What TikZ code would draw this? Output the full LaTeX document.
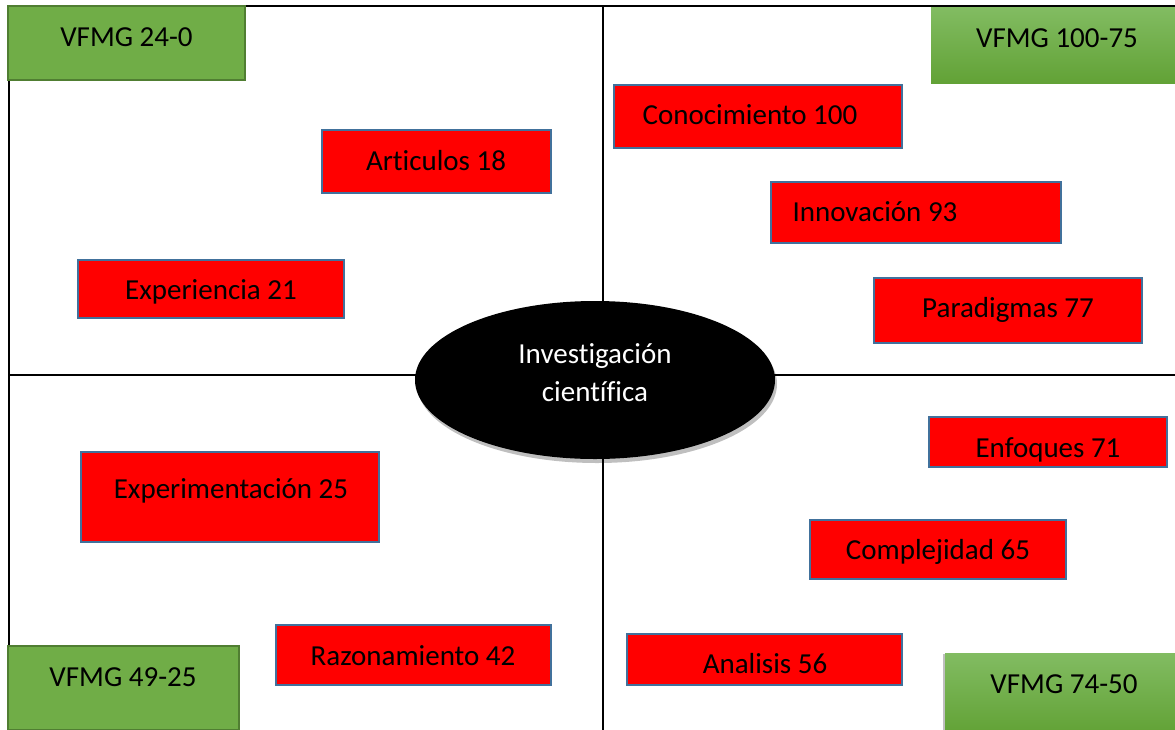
\documentclass[tikz,border=0pt]{standalone}
\usepackage{fontspec}
\setmainfont[Ligatures=NoCommon]{Carlito}
\usetikzlibrary{shadows,shapes.geometric}
\definecolor{boxred}{HTML}{FF0000}
\definecolor{boxblue}{HTML}{41719C}
\definecolor{gfill}{HTML}{70AD47}
\definecolor{gline}{HTML}{507E32}
\definecolor{gtop}{HTML}{82BC62}
\definecolor{gbot}{HTML}{62A236}
\tikzset{
  redbox/.style={draw=boxblue, line width=2pt, fill=boxred, inner sep=0pt},
  flatgreen/.style={draw=gline, line width=2pt, fill=gfill, inner sep=0pt},
  gradgreen/.style={top color=gtop, bottom color=gbot, draw=none, inner sep=0pt},
  lbl/.style={anchor=base, inner sep=0pt, yshift=-1.5pt, font=\fontsize{29}{35}\selectfont, text=black},
  wlbl/.style={lbl, text=white},
  frameline/.style={line width=2pt, black},
}
\begin{document}
\begin{tikzpicture}[x=1pt,y=-1pt]
\useasboundingbox (0,0) rectangle (1175,729);
% frame and quadrant lines
\coordinate (fbl) at (9,740);
\coordinate (ftl) at (9,6);
\coordinate (ftr) at (1180,6);
\coordinate (vt) at (603,6);
\coordinate (vb) at (603,740);
\coordinate (hl) at (9,375);
\coordinate (hr) at (1180,375);
\draw[frameline] (fbl) -- (ftl) -- (ftr);
\draw[frameline] (vt) -- (vb);
\draw[frameline] (hl) -- (hr);
% central ellipse
\node[ellipse, fill=black, minimum width=360pt, minimum height=158pt, inner sep=0pt,
      drop shadow={shadow xshift=2pt, shadow yshift=-4pt, opacity=0.25, fill=black}] (ctr) at (595,380) {};
\node[wlbl] (ctr1) at (595,362) {Investigación};
\node[wlbl] (ctr2) at (595,400) {científica};
% green boxes
\node[flatgreen, minimum width=237pt, minimum height=74pt] (g1) at (126.5,43) {};
\node[lbl] (g1t) at (126.5,45) {VFMG 24-0};
\node[gradgreen, minimum width=244pt, minimum height=76pt] (g2) at (1053,45) {};
\node[lbl] (g2t) at (1057,46) {VFMG 100-75};
\node[flatgreen, minimum width=231pt, minimum height=84pt] (g3) at (123.5,688) {};
\node[lbl] (g3t) at (123,685) {VFMG 49-25};
\node[gradgreen, minimum width=230pt, minimum height=80pt,
      drop shadow={shadow xshift=-2pt, shadow yshift=-1pt, opacity=0.25, fill=black}] (g4) at (1060,693) {};
\node[lbl] (g4t) at (1064,692) {VFMG 74-50};
% red boxes
\node[redbox, minimum width=229pt, minimum height=63pt] (art) at (436.5,161.5) {};
\node[lbl] (artt) at (436,169) {Articulos 18};
\node[redbox, minimum width=266pt, minimum height=58pt] (exp) at (211,289) {};
\node[lbl] (expt) at (211,298) {Experiencia 21};
\node[redbox, minimum width=288pt, minimum height=63pt] (con) at (758,116.5) {};
\node[lbl] (cont) at (750,123) {Conocimiento 100};
\node[redbox, minimum width=290pt, minimum height=61pt] (inn) at (916,212.5) {};
\node[lbl] (innt) at (875,220) {Innovación 93};
\node[redbox, minimum width=268pt, minimum height=65pt] (par) at (1008,310.5) {};
\node[lbl] (part) at (1008,316) {Paradigmas 77};
\node[redbox, minimum width=238pt, minimum height=50pt] (enf) at (1048,442) {};
\node[lbl] (enft) at (1048,456) {Enfoques 71};
\node[redbox, minimum width=256pt, minimum height=59pt] (com) at (938,549.5) {};
\node[lbl] (comt) at (938,558) {Complejidad 65};
\node[redbox, minimum width=275pt, minimum height=51pt] (ana) at (764.5,659.5) {};
\node[lbl] (anat) at (765,672) {Analisis 56};
\node[redbox, minimum width=298pt, minimum height=90pt] (exm) at (230,497) {};
\node[lbl] (exmt) at (231,497) {Experimentación 25};
\node[redbox, minimum width=275pt, minimum height=60pt] (raz) at (413.5,655) {};
\node[lbl] (razt) at (413,664) {Razonamiento 42};
\end{tikzpicture}
\end{document}
